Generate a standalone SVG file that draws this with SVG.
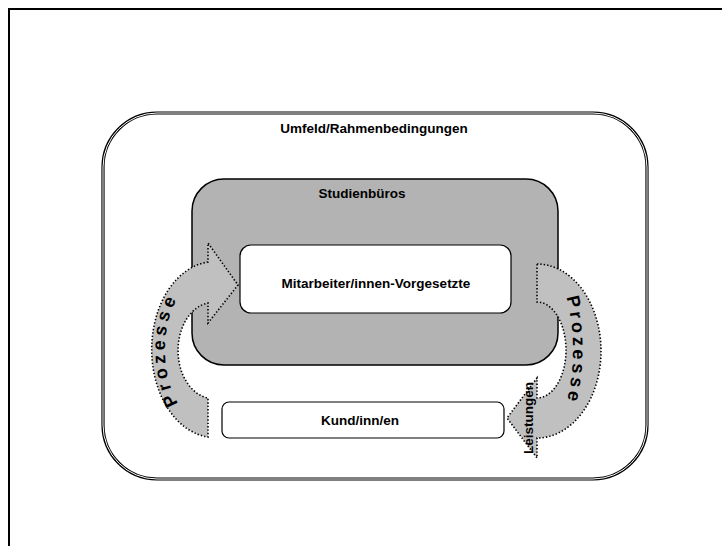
<svg xmlns="http://www.w3.org/2000/svg" width="722" height="546" viewBox="0 0 722 546">
<style>
.lbl{font-family:"Liberation Sans",Arial,sans-serif;font-weight:bold;font-size:13.5px;fill:#000;text-anchor:middle}
.arrow{fill:#c0c0c0;stroke:#000;stroke-width:1.6;stroke-dasharray:1.4 2;stroke-linecap:butt}
.proz{font-family:"Liberation Sans",Arial,sans-serif;font-weight:bold;font-size:18px;fill:#000}
</style>
<defs>
<path id="pl" d="M 208,424 A 43 74 0 0 1 208,276"/>
<path id="pr" d="M 537,259 A 36 91 0 0 1 537,441"/>
</defs>
<rect x="0" y="0" width="722" height="546" fill="#fff"/>
<rect id="frame" x="9" y="9" width="800" height="600" fill="none" stroke="#000" stroke-width="2"/>
<g id="umfeld">
<rect x="103" y="113" width="544" height="366" rx="54" fill="none" stroke="#000" stroke-width="3.2"/>
<rect x="103" y="113" width="544" height="366" rx="54" fill="none" stroke="#fff" stroke-width="1"/>
<text class="lbl" x="374" y="133">Umfeld/Rahmenbedingungen</text>
</g>
<g id="studienbueros">
<rect x="192" y="179" width="366" height="186" rx="32" fill="#b3b3b3" stroke="#000" stroke-width="1.5"/>
<text class="lbl" x="362" y="198">Studienbüros</text>
</g>
<g id="mitarbeiter">
<rect x="240" y="245" width="271" height="68" rx="11" fill="#fff" stroke="#000" stroke-width="1.2"/>
<text class="lbl" x="376" y="288">Mitarbeiter/innen-Vorgesetzte</text>
</g>
<g id="kunden">
<rect x="222" y="402" width="282" height="36" rx="7" fill="#fff" stroke="#000" stroke-width="1.2"/>
<text class="lbl" x="360" y="425">Kund/inn/en</text>
</g>
<g id="connectors">
<g id="prozesse-links">
<path class="arrow" d="M 208,262 A 63 88 0 0 0 208,437 L 208,398 A 35 48 0 0 1 208,303 L 208,323 L 238,285 L 208,243 Z"/>
<text class="proz" letter-spacing="4"><textPath href="#pl" startOffset="50%" text-anchor="middle">Prozesse</textPath></text>
</g>
<g id="prozesse-rechts">
<path class="arrow" d="M 537,264 A 64 87 0 0 1 537,438 L 537,458 L 507,418 L 537,378 L 537,398 A 29 48 0 0 0 537,302 Z"/>
<text class="proz" letter-spacing="3.5"><textPath href="#pr" startOffset="50%" text-anchor="middle">Prozesse</textPath></text>
<text class="lbl" font-size="13" textLength="72" lengthAdjust="spacingAndGlyphs" transform="translate(533,418) rotate(-90)">Leistungen</text>
</g>
</g>
</svg>
